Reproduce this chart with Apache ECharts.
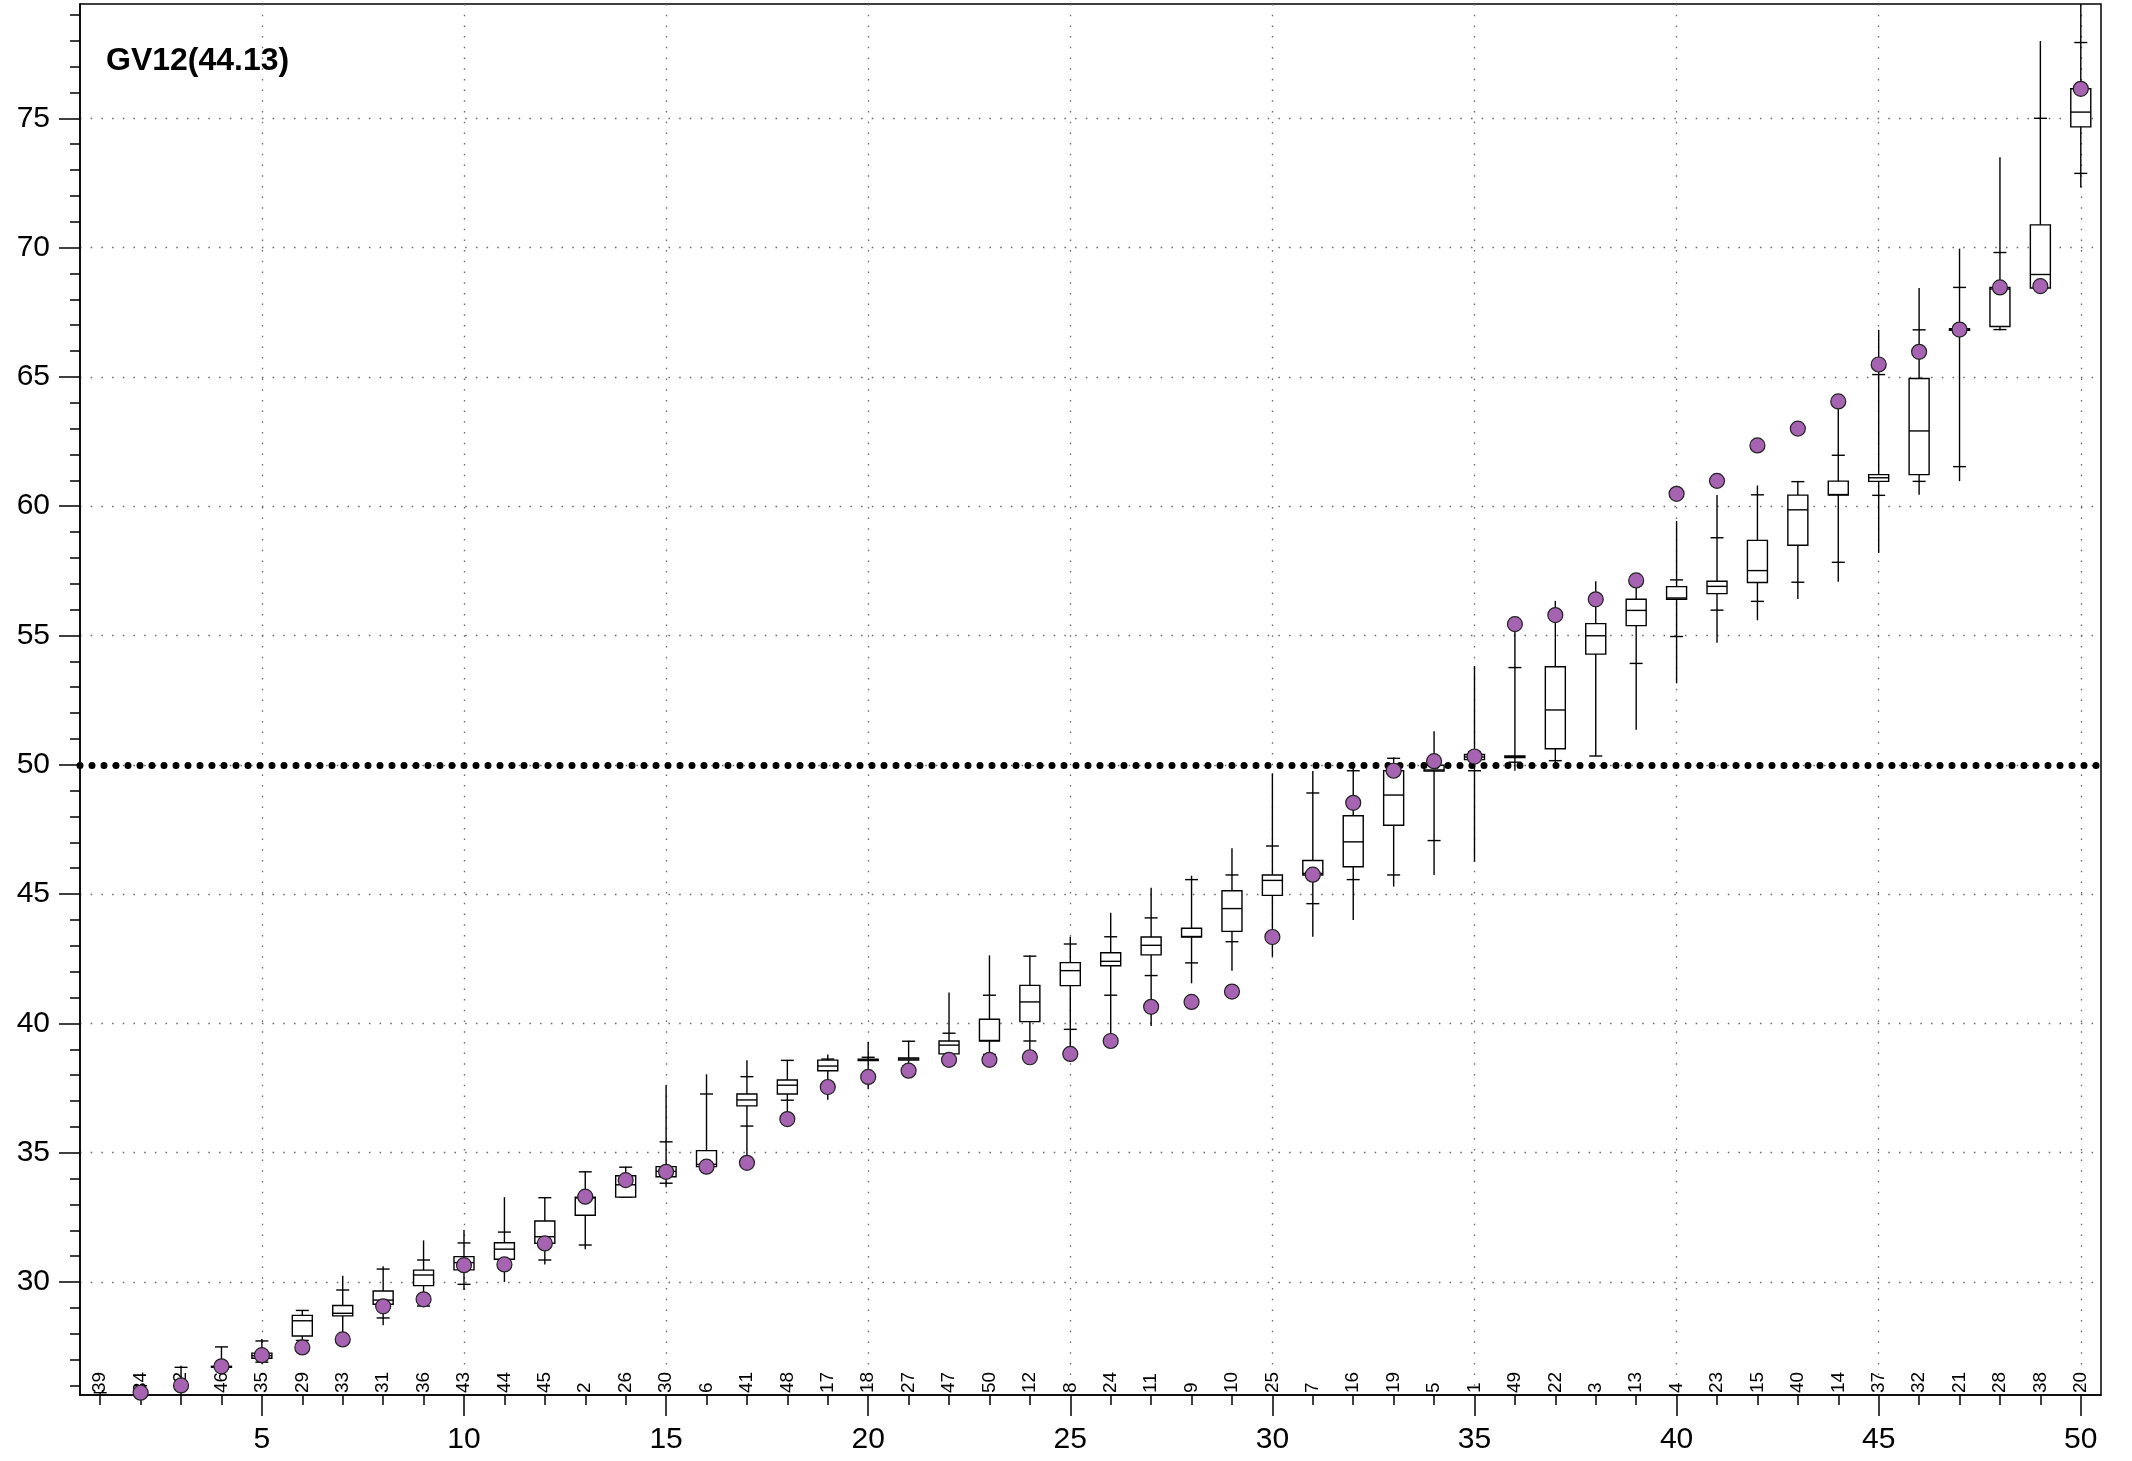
<!DOCTYPE html>
<html>
<head>
<meta charset="utf-8">
<script src="https://cdn.jsdelivr.net/npm/echarts@6/dist/echarts.min.js"></script>
<style>
html,body{margin:0;padding:0;background:#fff;}
#chart{width:2132px;height:1461px;}
</style>
</head>
<body>
<div id="chart"></div>
<script>
// Category ids shown (rotated) along the bottom, in plotted order
const ids = [39,34,42,46,35,29,33,31,36,43,44,45,2,26,30,6,41,48,17,18,27,47,50,12,8,24,11,9,10,25,7,16,19,5,1,49,22,3,13,4,23,15,40,14,37,32,21,28,38,20];
// Box-plot statistics per position
const mins = [24.0,24.5,25.0,26.65,26.84,27.7,27.75,28.33,29.03,29.69,30.0,30.68,31.27,33.28,33.66,34.46,34.8,36.55,37.05,37.45,38.2,38.6,38.7,38.8,38.9,39.5,39.9,41.55,42.04,42.58,43.35,44.0,45.29,45.74,46.25,49.77,49.99,50.34,51.36,53.15,54.72,55.59,56.41,57.08,58.19,60.44,60.97,66.8,68.44,72.32];
const p10s = [24.5,24.8,25.2,26.7,26.9,27.74,27.8,28.61,29.07,29.91,30.6,30.85,31.43,33.28,33.82,34.46,36.03,37.03,37.5,37.9,38.35,38.7,38.8,39.32,39.77,41.09,41.85,42.34,43.16,43.3,44.63,45.56,45.74,47.07,49.77,50.1,50.16,50.34,53.92,54.96,55.98,56.32,57.06,57.83,60.42,60.96,61.53,66.83,68.44,72.87];
const q1s = [24.8,25.0,25.4,26.7,27.05,27.91,28.69,29.14,29.86,30.47,30.88,31.5,32.58,33.28,34.07,34.46,36.81,37.27,38.17,38.56,38.58,38.82,39.32,40.07,41.46,42.23,42.65,43.34,43.56,44.95,45.74,46.06,47.66,49.76,50.2,50.28,50.62,54.28,55.38,56.4,56.62,57.05,58.49,60.43,60.96,61.22,66.8,66.95,68.44,74.67];
const meds = [25.0,25.2,25.5,26.72,27.15,28.5,28.79,29.3,30.27,30.75,31.27,31.75,33.25,33.76,34.28,34.55,37.04,37.61,38.35,38.59,38.62,39.16,39.34,40.83,42.04,42.4,43.02,43.36,44.44,45.53,45.8,47.02,48.83,49.8,50.3,50.3,52.12,54.99,55.97,56.45,56.9,57.51,59.86,60.45,61.1,62.91,66.83,68.4,68.96,75.24];
const q3s = [25.2,25.4,25.6,26.74,27.25,28.71,29.09,29.65,30.46,30.98,31.52,32.36,33.28,34.11,34.46,35.08,37.27,37.81,38.58,38.62,38.66,39.32,40.16,41.47,42.35,42.73,43.34,43.68,45.13,45.74,46.3,48.03,49.77,49.98,50.4,50.34,53.79,55.46,56.4,56.89,57.1,58.68,60.43,60.97,61.22,64.94,66.86,68.46,70.88,76.14];
const p90s = [25.72,25.99,26.7,27.49,27.72,28.9,29.69,30.5,30.85,31.51,31.93,33.26,34.26,34.44,35.42,37.27,37.94,38.57,38.62,38.69,39.31,39.62,41.09,42.6,43.07,43.35,44.08,45.56,45.74,46.86,48.91,49.77,50.25,50.1,50.5,53.76,55.8,56.4,57.0,57.15,58.78,60.44,60.95,61.97,65.09,66.82,68.46,69.81,75.0,77.93];
const maxs = [25.72,26.0,26.76,27.5,27.8,28.92,30.24,30.61,31.61,32.01,33.28,33.28,34.28,34.46,37.61,38.03,38.57,38.59,38.8,39.29,39.33,41.19,42.63,42.63,43.35,44.28,45.25,45.71,46.77,49.67,49.76,50.12,50.29,51.3,53.82,55.72,56.34,57.1,57.2,59.43,60.43,60.8,60.97,63.9,66.82,68.44,69.96,73.49,77.99,81.0];
// Purple markers
const dots = [24.9,25.72,26.0,26.74,27.17,27.47,27.78,29.06,29.33,30.65,30.68,31.49,33.3,33.94,34.26,34.46,34.61,36.3,37.54,37.93,38.17,38.59,38.59,38.69,38.82,39.32,40.64,40.83,41.23,43.34,45.75,48.53,49.77,50.14,50.32,55.44,55.79,56.4,57.13,60.48,60.98,62.35,63.0,64.05,65.48,65.97,66.83,68.46,68.51,76.14];
// Axis ticks / labels
const xMajor = [5,10,15,20,25,30,35,40,45,50];
const yMajor = [30,35,40,45,50,55,60,65,70,75];
const refLine = 50;
const titleText = 'GV12(44.13)';

const positions = ids.map((_, i) => i + 1);
const xMinor = positions.slice();
const yMinor = [];
for (let v = 26; v <= 79; v++) yMinor.push(v);

const boxData = positions.map((p, i) => [p, mins[i], p10s[i], q1s[i], meds[i], q3s[i], p90s[i], maxs[i]]);
const dotData = positions.map((p, i) => [p, dots[i]]);

const FONT = 'Helvetica, "Liberation Sans", Arial, sans-serif';
const tickStyle = {color: '#000', width: 1.5};
const gridDots = {color: '#666', width: 1.3, type: [1.5, 9.2]};

function renderBox(params, api) {
  const x = api.value(0);
  const mn = api.value(1), lo = api.value(2), q1 = api.value(3), md = api.value(4),
        q3 = api.value(5), hi = api.value(6), mx = api.value(7);
  const cx = api.coord([x, md])[0];
  const Y = v => api.coord([x, v])[1];
  const bw = 20, cw = 13;
  const st = {stroke: '#000', lineWidth: 1.4, fill: null};
  const cs = params.coordSys;
  return {
    type: 'group',
    clipPath: {type: 'rect', shape: {x: cs.x, y: cs.y, width: cs.width, height: cs.height}},
    children: [
      {type: 'line', shape: {x1: cx, y1: Y(mn), x2: cx, y2: Y(mx)}, style: st},
      {type: 'line', shape: {x1: cx - cw / 2, y1: Y(lo), x2: cx + cw / 2, y2: Y(lo)}, style: st},
      {type: 'line', shape: {x1: cx - cw / 2, y1: Y(hi), x2: cx + cw / 2, y2: Y(hi)}, style: st},
      {type: 'rect', shape: {x: cx - bw / 2, y: Y(q3), width: bw, height: Y(q1) - Y(q3)},
       style: {fill: '#fff', stroke: '#000', lineWidth: 1.4}},
      {type: 'line', shape: {x1: cx - bw / 2, y1: Y(md), x2: cx + bw / 2, y2: Y(md)}, style: st}
    ]
  };
}

const chart = echarts.init(document.getElementById('chart'), null, {renderer: 'canvas'});
chart.setOption({
  animation: false,
  backgroundColor: '#fff',
  textStyle: {fontFamily: FONT},
  title: {
    text: titleText, left: 101, top: 40,
    textStyle: {fontSize: 32, fontWeight: 'bold', color: '#000', fontFamily: FONT}
  },
  grid: {left: 80, right: 31, top: 4, bottom: 66, show: true, borderColor: '#000', borderWidth: 1.5, backgroundColor: 'transparent'},
  xAxis: [
    {type: 'value', min: 0.5, max: 50.5, position: 'bottom',
     axisLine: {show: true, lineStyle: tickStyle},
     axisTick: {show: true, length: 10, customValues: xMinor, lineStyle: tickStyle},
     axisLabel: {show: false}, splitLine: {show: false}},
    {type: 'value', min: 0.5, max: 50.5, position: 'bottom',
     axisLine: {show: false},
     axisTick: {show: true, length: 21, customValues: xMajor, lineStyle: tickStyle},
     axisLabel: {show: true, customValues: xMajor, fontSize: 30, color: '#000', margin: 30, fontFamily: FONT},
     splitLine: {show: true, lineStyle: gridDots}},
    {type: 'value', min: 0.5, max: 50.5, position: 'bottom',
     axisLine: {show: false}, axisTick: {show: false}, splitLine: {show: false},
     axisLabel: {show: true, inside: true, rotate: 90, margin: 2, customValues: positions,
       fontSize: 19, color: '#000', fontFamily: FONT,
       formatter: v => String(ids[Math.round(v) - 1])}}
  ],
  yAxis: [
    {type: 'value', min: 25.63, max: 79.42, position: 'left',
     axisLine: {show: true, lineStyle: tickStyle},
     axisTick: {show: true, length: 10, customValues: yMinor, lineStyle: tickStyle},
     axisLabel: {show: false}, splitLine: {show: false}},
    {type: 'value', min: 25.63, max: 79.42, position: 'left',
     axisLine: {show: false},
     axisTick: {show: true, length: 21, customValues: yMajor, lineStyle: tickStyle},
     axisLabel: {show: true, customValues: yMajor, fontSize: 30, color: '#000', margin: 30,
       align: 'right', verticalAlign: 'middle', fontFamily: FONT},
     splitLine: {show: true, lineStyle: gridDots}}
  ],
  series: [
    {
      type: 'custom', xAxisIndex: 0, yAxisIndex: 0, z: 2,
      renderItem: renderBox,
      encode: {x: 0, y: [1, 2, 3, 4, 5, 6, 7]},
      data: boxData,
      markLine: {
        silent: true, symbol: ['none', 'none'], z: 3,
        label: {show: false},
        lineStyle: {color: '#000', width: 7, type: [0, 12], cap: 'round', opacity: 1},
        emphasis: {disabled: true},
        data: [{yAxis: refLine}]
      }
    },
    {
      type: 'scatter', xAxisIndex: 0, yAxisIndex: 0, z: 4,
      symbol: 'circle', symbolSize: 15, clip: true,
      itemStyle: {color: '#A563B1', borderColor: '#222', borderWidth: 1.2, opacity: 1},
      data: dotData
    }
  ]
});
</script>
</body>
</html>
